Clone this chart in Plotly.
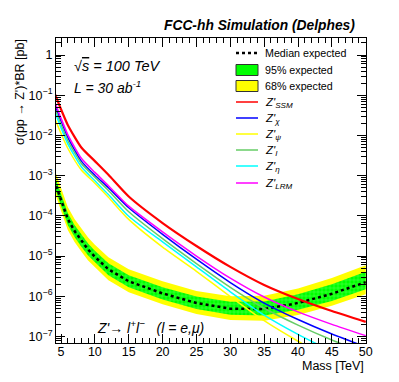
import numpy as np
import plotly.graph_objects as go

# ---------------- data ----------------
band_mass = [4, 5, 6, 7, 8, 9, 10, 12, 15, 20, 25, 30, 35, 40, 45, 50]
median_log = [-3.12, -3.60, -4.08, -4.38, -4.62, -4.84, -5.02, -5.33, -5.63, -5.93,
              -6.17, -6.31, -6.32, -6.17, -5.94, -5.65]
green_up_log = [-2.97, -3.45, -3.93, -4.23, -4.47, -4.69, -4.87, -5.18, -5.48, -5.78,
                -6.01, -6.14, -6.13, -5.95, -5.70, -5.39]
green_dn_log = [-3.27, -3.75, -4.23, -4.53, -4.77, -4.99, -5.17, -5.48, -5.78, -6.08,
                -6.32, -6.46, -6.48, -6.34, -6.12, -5.83]
yellow_up_log = [-2.82, -3.30, -3.78, -4.08, -4.32, -4.54, -4.72, -5.03, -5.33, -5.63,
                 -5.87, -6.00, -5.99, -5.81, -5.55, -5.23]
yellow_dn_log = [-3.39, -3.87, -4.35, -4.65, -4.89, -5.11, -5.29, -5.60, -5.90, -6.20,
                 -6.44, -6.59, -6.61, -6.47, -6.24, -5.95]

theory_mass = [4, 5, 6, 8, 10, 12, 15, 20, 25, 30, 35, 40, 45, 50]
ssm_log = [-0.93, -1.35, -1.74, -2.30, -2.64, -2.98, -3.52, -4.18, -4.75, -5.27, -5.72, -6.07, -6.37, -6.64]
chi_log = [-1.20, -1.64, -2.05, -2.64, -2.99, -3.30, -3.80, -4.46, -5.08, -5.66, -6.17, -6.58, -6.94, -7.26]
psi_log = [-1.55, -1.95, -2.32, -2.86, -3.19, -3.54, -4.09, -4.78, -5.38, -6.01, -6.61, -7.12, -7.57, -7.97]
i_log = [-1.30, -1.73, -2.13, -2.70, -3.04, -3.37, -3.90, -4.57, -5.19, -5.78, -6.30, -6.72, -7.09, -7.42]
eta_log = [-1.38, -1.81, -2.21, -2.78, -3.13, -3.47, -4.01, -4.65, -5.27, -5.89, -6.47, -6.95, -7.37, -7.76]
lrm_log = [-1.13, -1.57, -1.98, -2.57, -2.92, -3.25, -3.76, -4.40, -5.00, -5.55, -6.02, -6.39, -6.70, -6.98]

y_tick_vals = [1e-7, 1e-6, 1e-5, 1e-4, 1e-3, 1e-2, 1e-1, 1]
y_tick_text = ["10<sup>\u22127</sup>", "10<sup>\u22126</sup>", "10<sup>\u22125</sup>",
               "10<sup>\u22124</sup>", "10<sup>\u22123</sup>", "10<sup>\u22122</sup>",
               "10<sup>\u22121</sup>", "1"]
x_tick_vals = [5, 10, 15, 20, 25, 30, 35, 40, 45, 50]

# ---------------------------------------------------------------
def pw(a):
    return list(10.0 ** np.array(a))

W, H = 399, 382
L, R, T, B = 56, 33, 38, 39
PW, PH = W - L - R, H - T - B


def px(xp):
    return (xp - L) / PW


def py(yp):
    return (H - B - yp) / PH


FONT = "Liberation Sans, Arial, Helvetica, sans-serif"
fig = go.Figure()

fig.add_trace(go.Scatter(
    x=band_mass + band_mass[::-1], y=pw(yellow_up_log) + pw(yellow_dn_log)[::-1],
    fill="toself", fillcolor="#ffff00", line=dict(width=0, color="#ffff00"),
    mode="lines", name="68% expected", showlegend=False, hoverinfo="skip"))
fig.add_trace(go.Scatter(
    x=band_mass + band_mass[::-1], y=pw(green_up_log) + pw(green_dn_log)[::-1],
    fill="toself", fillcolor="#00ff00", line=dict(width=0, color="#00ff00"),
    fillpattern=dict(shape="+", fgcolor="#9cff9c", size=4, solidity=0.25, fillmode="overlay"),
    mode="lines", name="95% expected", showlegend=False, hoverinfo="skip"))
fig.add_trace(go.Scatter(
    x=band_mass, y=pw(median_log), mode="lines", name="Median expected",
    showlegend=False, line=dict(color="black", width=2.5, dash="dot")))

models = [
    ("SSM", ssm_log, "#ff0000", 2.2),
    ("\u03c7", chi_log, "#0000ff", 1.5),
    ("\u03c8", psi_log, "#ffff00", 1.5),
    ("I", i_log, "#66cc66", 1.5),
    ("\u03b7", eta_log, "#00ffff", 1.5),
    ("LRM", lrm_log, "#ff00ff", 1.5),
]
for sub, vals, col, w in models:
    fig.add_trace(go.Scatter(
        x=theory_mass, y=pw(vals), mode="lines", name="Z'" + sub, showlegend=False,
        line=dict(color=col, width=w, shape="spline", smoothing=0.6)))

minor_y = [k * 10.0 ** n for n in range(-8, 1) for k in range(2, 10)]
NOGRID = "rgba(0,0,0,0)"

fig.update_layout(
    width=W, height=H,
    margin=dict(l=L, r=R, t=T, b=B),
    paper_bgcolor="white", plot_bgcolor="white",
    font=dict(family=FONT, size=12.5, color="black"),
    showlegend=False,
    xaxis=dict(range=[4.26, 50.04], tickmode="array", tickvals=x_tick_vals,
               ticks="inside", ticklen=9, tickwidth=1, tickcolor="black",
               showline=True, linecolor="black", linewidth=1, mirror="allticks",
               showgrid=False, gridcolor=NOGRID, gridwidth=0, zeroline=False,
               ticklabelstandoff=-3,
               minor=dict(ticks="inside", ticklen=5, dtick=1, tick0=0,
                          tickcolor="black", showgrid=False, gridcolor=NOGRID, gridwidth=0),
               tickfont=dict(size=12.5)),
    yaxis=dict(type="log", range=[-7.164, 0.423], tickmode="array",
               tickvals=y_tick_vals, ticktext=y_tick_text,
               ticks="inside", ticklen=9, tickwidth=1, tickcolor="black",
               showline=True, linecolor="black", linewidth=1, mirror="allticks",
               showgrid=False, gridcolor=NOGRID, gridwidth=0, zeroline=False,
               minor=dict(ticks="inside", ticklen=5, tickmode="array", tickvals=minor_y,
                          tickcolor="black", showgrid=False, gridcolor=NOGRID, gridwidth=0),
               tickfont=dict(size=12.5)),
)

ann = [
    dict(text="<b><i>FCC-hh Simulation (Delphes)</i></b>", x=px(357), y=py(25),
         xanchor="right", yanchor="middle", font=dict(size=13.8)),
    dict(text="\u03c3(pp \u2192 Z')*BR [pb]", x=px(20), y=py(37), textangle=-90,
         xanchor="center", yanchor="top", font=dict(size=12.5)),
    dict(text="Mass [TeV]", x=px(366), y=py(366), xanchor="right", yanchor="middle",
         font=dict(size=12.5)),
    dict(text="<i>\u221a<span style='text-decoration:overline'>s</span> = 100 TeV</i>",
         x=px(72), y=py(66), xanchor="left", yanchor="middle", font=dict(size=14.5)),
    dict(text="<i>L = 30 ab<sup>-1</sup></i>", x=px(72), y=py(87), xanchor="left",
         yanchor="middle", font=dict(size=14)),
    dict(text="<i>Z'\u2192 l<sup>+</sup>l<sup>\u2212</sup>   (l = e,\u03bc)</i>", x=px(95),
         y=py(327), xanchor="left", yanchor="middle", font=dict(size=14)),
]

# ---- legend drawn by hand (ROOT TLegend look) ----
LX0, LX1, LTX = 236, 258, 263
leg_rows = [53, 70, 86, 102, 118, 134, 150, 166, 183]
shapes = []
shapes.append(dict(type="line", x0=px(LX0), x1=px(LX1), y0=py(leg_rows[0]), y1=py(leg_rows[0]),
                   line=dict(color="black", width=2.5, dash="dot")))
ann.append(dict(text="Median expected", x=px(LTX), y=py(leg_rows[0]), xanchor="left",
                yanchor="middle", font=dict(size=10.7)))
for row, col, lab in [(leg_rows[1], "#00ff00", "95% expected"), (leg_rows[2], "#ffff00", "68% expected")]:
    shapes.append(dict(type="rect", x0=px(LX0), x1=px(LX1), y0=py(row - 5.5), y1=py(row + 5.5),
                       fillcolor=col, line=dict(color="#333333", width=1)))
    ann.append(dict(text=lab, x=px(LTX), y=py(row), xanchor="left", yanchor="middle",
                    font=dict(size=10.7)))
for (sub, vals, col, w), row in zip(models, leg_rows[3:]):
    shapes.append(dict(type="line", x0=px(LX0), x1=px(LX1), y0=py(row), y1=py(row),
                       line=dict(color=col, width=1.5)))
    ann.append(dict(text="<i>Z'<sub>" + sub + "</sub></i>", x=px(LTX), y=py(row + 1),
                    xanchor="left", yanchor="middle", font=dict(size=11.5)))

for a in ann:
    a.update(xref="paper", yref="paper", showarrow=False)
    fig.add_annotation(**a)
for s in shapes:
    s.update(xref="paper", yref="paper")
    fig.add_shape(**s)

fig.write_html("out.html", config={"displayModeBar": False},
               post_script="document.body.style.margin='0px';document.body.style.overflow='hidden';")
